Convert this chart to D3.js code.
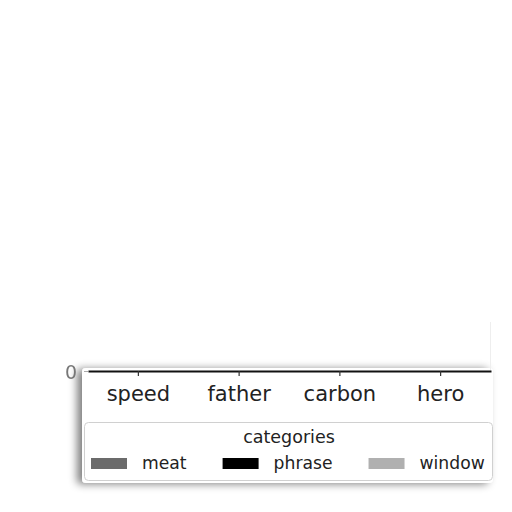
<!DOCTYPE html>
<html>
<head>
<meta charset="utf-8">
<script src="https://cdn.jsdelivr.net/npm/d3@7"></script>
<style>
  html, body { margin: 0; padding: 0; background: #fff; }
  svg { display: block; font-family: "DejaVu Sans", sans-serif; }
</style>
</head>
<body>
<div id="chart"></div>
<script>
const categories = ["speed", "father", "carbon", "hero"];
const seriesNames = ["meat", "phrase", "window"];
const meat = [0, 0, 0, 0];
const phrase = [0, 0, 0, 0];
const windowVals = [0, 0, 0, 0];
const yTicks = [0];
const colors = ["#6b6b6b", "#000000", "#b0b0b0"];

const width = 512;
const height = 512;
const margin = { top: 60, right: 21, bottom: 141, left: 88 };

const series = [meat, phrase, windowVals];
const rows = categories.map((c, i) => ({
  cat: c,
  vals: seriesNames.map((s, j) => ({ key: s, value: series[j][i] }))
}));

const svg = d3.select("#chart")
  .append("svg")
  .attr("width", width)
  .attr("height", height);

const defs = svg.append("defs");
const sh = defs.append("filter").attr("id", "shadow")
  .attr("x", "-10%").attr("y", "-20%").attr("width", "120%").attr("height", "140%");
sh.append("feGaussianBlur").attr("in", "SourceAlpha").attr("stdDeviation", 4);
sh.append("feOffset").attr("dx", -5).attr("dy", 1).attr("result", "b");
sh.append("feComponentTransfer").append("feFuncA").attr("type", "linear").attr("slope", 0.5);
const m = sh.append("feMerge");
m.append("feMergeNode");
m.append("feMergeNode").attr("in", "SourceGraphic");

const soft = defs.append("filter").attr("id", "soft");
soft.append("feGaussianBlur").attr("stdDeviation", 0.7);

const x = d3.scaleBand()
  .domain(categories)
  .range([margin.left, width - margin.right]);

const x1 = d3.scaleBand()
  .domain(seriesNames)
  .range([0, x.bandwidth()])
  .padding(0.1);

const yMax = d3.max(series.flat()) || 1;
const y = d3.scaleLinear()
  .domain([0, yMax])
  .range([height - margin.bottom, margin.top]);

// panel behind the x labels and legend
svg.append("rect")
  .attr("x", 82).attr("y", 368)
  .attr("width", 411).attr("height", 115)
  .attr("rx", 4)
  .attr("fill", "#fff")
  .attr("filter", "url(#shadow)");

// bars (all zero height)
svg.append("g")
  .selectAll("g")
  .data(rows)
  .join("g")
  .attr("transform", d => `translate(${x(d.cat)},0)`)
  .selectAll("rect")
  .data(d => d.vals)
  .join("rect")
  .attr("x", d => x1(d.key))
  .attr("y", d => y(d.value))
  .attr("width", x1.bandwidth())
  .attr("height", d => y(0) - y(d.value))
  .attr("fill", (d, i) => colors[i]);

// faint right spine
svg.append("line")
  .attr("x1", width - margin.right - 0.5).attr("x2", width - margin.right - 0.5)
  .attr("y1", 322).attr("y2", y(0))
  .attr("stroke", "#eee").attr("stroke-width", 1);

// x axis
const xAxis = svg.append("g")
  .attr("transform", `translate(0,${y(0)})`)
  .call(d3.axisBottom(x).tickSize(5).tickSizeOuter(0));
xAxis.select(".domain").attr("stroke", "#111").attr("stroke-width", 2.2);
xAxis.selectAll(".tick line").attr("stroke", "#333").attr("stroke-width", 1.2);
xAxis.selectAll(".tick text")
  .attr("font-size", 21)
  .attr("fill", "#222")
  .attr("dy", "1.05em")
  .attr("font-family", "DejaVu Sans");

// y axis: only the 0 label
const yAxis = svg.append("g")
  .attr("transform", `translate(${margin.left},0)`)
  .call(d3.axisLeft(y).tickValues(yTicks).tickFormat(d3.format("d")).tickSize(4).tickPadding(7));
yAxis.select(".domain").remove();
yAxis.selectAll(".tick line").attr("stroke", "#aaa");
yAxis.selectAll(".tick text")
  .attr("font-size", 19)
  .attr("fill", "#777")
  .attr("dy", "0.4em")
  .attr("font-family", "DejaVu Sans")
  .attr("filter", "url(#soft)");

// legend
const lg = svg.append("g");
lg.append("rect")
  .attr("x", 84.5).attr("y", 422.5)
  .attr("width", 408).attr("height", 58)
  .attr("rx", 4)
  .attr("fill", "#fff")
  .attr("stroke", "#d0d0d0");
lg.append("text")
  .attr("x", 289).attr("y", 443)
  .attr("text-anchor", "middle")
  .attr("font-size", 17.5)
  .attr("fill", "#222")
  .text("categories");

const items = lg.selectAll("g.item")
  .data(seriesNames)
  .join("g")
  .attr("class", "item");
items.append("rect")
  .attr("width", 36).attr("height", 11)
  .attr("fill", (d, i) => colors[i]);
items.append("text")
  .attr("x", 51).attr("y", 11)
  .attr("font-size", 17.2)
  .attr("fill", "#222")
  .text(d => d);

// lay out legend columns by measured text width
let lx = 91;
items.each(function () {
  d3.select(this).attr("transform", `translate(${lx},458)`);
  lx += 51 + this.querySelector("text").getComputedTextLength() + 36;
});
</script>
</body>
</html>
